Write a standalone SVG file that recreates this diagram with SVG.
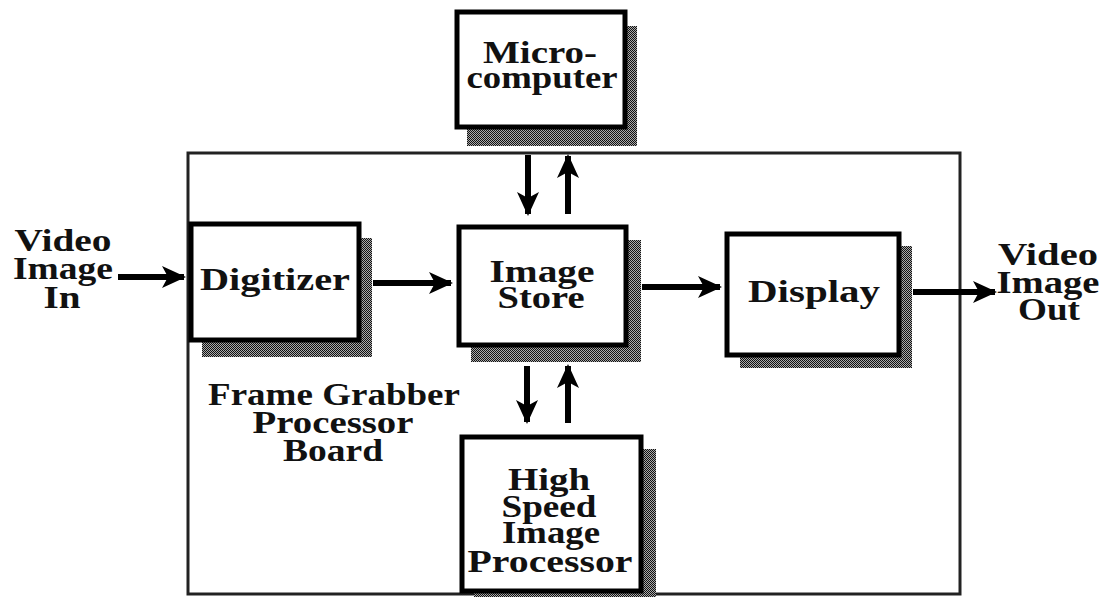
<svg xmlns="http://www.w3.org/2000/svg" width="1110" height="600" viewBox="0 0 1110 600">
  <defs>
    <!-- halftone dot fill for drop shadows -->
    <pattern id="halftone" width="2" height="2" patternUnits="userSpaceOnUse">
      <rect x="0" y="0" width="1" height="1" fill="#111"/>
      <rect x="1" y="1" width="1" height="1" fill="#111"/>
      <rect x="1" y="0" width="1" height="1" fill="#aaa"/>
      <rect x="0" y="1" width="1" height="1" fill="#aaa"/>
    </pattern>
    <marker id="head" viewBox="0 0 24 24" refX="22" refY="12" markerWidth="24" markerHeight="24" markerUnits="userSpaceOnUse" orient="auto">
      <path d="M0,1 L24,12 L0,23 L6,12 Z" fill="#000"/>
    </marker>
  </defs>
  <style>
    .shadow { fill: url(#halftone); }
    .box { fill: #fff; stroke: #000; stroke-width: 5; }
    .frame { fill: none; stroke: #222; stroke-width: 3; }
    .label { font-family: "Liberation Serif", "Times New Roman", serif; font-weight: bold; font-size: 32px; fill: #111; text-anchor: middle; }
    .wire { stroke: #000; stroke-width: 6; fill: none; marker-end: url(#head); }
  </style>

  <rect width="1110" height="600" fill="#fff"/>

  <!-- board outline -->
  <g id="board">
    <rect class="frame" x="188" y="153" width="772" height="441"/>
    <text class="label" x="334" y="405" textLength="252" lengthAdjust="spacingAndGlyphs">Frame Grabber</text>
    <text class="label" x="333" y="433" textLength="161" lengthAdjust="spacingAndGlyphs">Processor</text>
    <text class="label" x="333" y="461" textLength="100" lengthAdjust="spacingAndGlyphs">Board</text>
  </g>

  <g id="microcomputer">
    <rect class="shadow" x="467" y="26" width="170" height="120"/>
    <rect class="box" x="457" y="12" width="168" height="115"/>
    <text class="label" x="540" y="63" textLength="114" lengthAdjust="spacingAndGlyphs">Micro-</text>
    <text class="label" x="542" y="88" textLength="151" lengthAdjust="spacingAndGlyphs">computer</text>
  </g>

  <g id="digitizer">
    <rect class="shadow" x="202" y="238" width="170" height="119"/>
    <rect class="box" x="191" y="224" width="168" height="116"/>
    <text class="label" x="275" y="290" textLength="150" lengthAdjust="spacingAndGlyphs">Digitizer</text>
  </g>

  <g id="image-store">
    <rect class="shadow" x="471" y="240" width="170" height="122"/>
    <rect class="box" x="459" y="227" width="167" height="118"/>
    <text class="label" x="542" y="282" textLength="105" lengthAdjust="spacingAndGlyphs">Image</text>
    <text class="label" x="541" y="308" textLength="87" lengthAdjust="spacingAndGlyphs">Store</text>
  </g>

  <g id="display">
    <rect class="shadow" x="740" y="246" width="172" height="122"/>
    <rect class="box" x="727" y="234" width="172" height="121"/>
    <text class="label" x="814" y="302" textLength="132" lengthAdjust="spacingAndGlyphs">Display</text>
  </g>

  <g id="processor">
    <rect class="shadow" x="474" y="449" width="182" height="148"/>
    <rect class="box" x="462" y="437" width="179" height="154"/>
    <text class="label" x="549" y="490" textLength="82" lengthAdjust="spacingAndGlyphs">High</text>
    <text class="label" x="549" y="517" textLength="95" lengthAdjust="spacingAndGlyphs">Speed</text>
    <text class="label" x="551" y="543" textLength="98" lengthAdjust="spacingAndGlyphs">Image</text>
    <text class="label" x="550" y="572" textLength="165" lengthAdjust="spacingAndGlyphs">Processor</text>
  </g>

  <g id="video-in">
    <text class="label" x="63" y="251" textLength="97" lengthAdjust="spacingAndGlyphs">Video</text>
    <text class="label" x="63" y="279" textLength="100" lengthAdjust="spacingAndGlyphs">Image</text>
    <text class="label" x="62" y="308" textLength="37" lengthAdjust="spacingAndGlyphs">In</text>
  </g>

  <g id="video-out">
    <text class="label" x="1048" y="265" textLength="100" lengthAdjust="spacingAndGlyphs">Video</text>
    <text class="label" x="1048" y="293" textLength="103" lengthAdjust="spacingAndGlyphs">Image</text>
    <text class="label" x="1049" y="320" textLength="62" lengthAdjust="spacingAndGlyphs">Out</text>
  </g>

  <g id="connectors">
    <line class="wire" x1="118" y1="277" x2="184" y2="277"/>
    <line class="wire" x1="373" y1="283" x2="451" y2="283"/>
    <line class="wire" x1="642" y1="287" x2="720" y2="287"/>
    <line class="wire" x1="913" y1="292" x2="995" y2="292"/>
    <!-- bus to microcomputer -->
    <line class="wire" x1="528" y1="155" x2="528" y2="214"/>
    <line class="wire" x1="568" y1="214" x2="568" y2="156"/>
    <!-- bus to processor -->
    <line class="wire" x1="527" y1="366" x2="527" y2="422"/>
    <line class="wire" x1="568" y1="423" x2="568" y2="366"/>
  </g>
</svg>
